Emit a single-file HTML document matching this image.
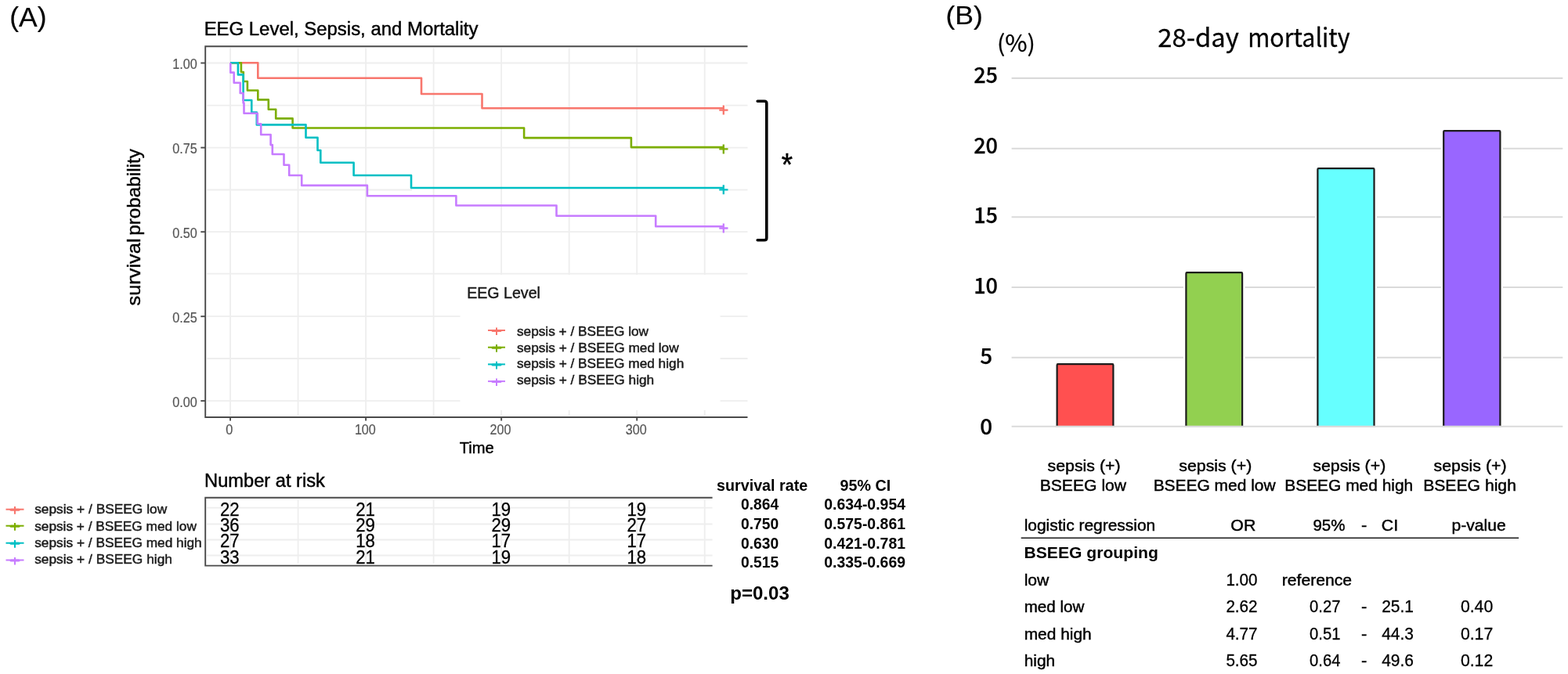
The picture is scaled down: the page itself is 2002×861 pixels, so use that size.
<!DOCTYPE html>
<html lang="en">
<head>
<meta charset="utf-8">
<title>EEG Level, Sepsis, and Mortality</title>
<style>
html,body{margin:0;padding:0;background:#fff;}
body{width:2002px;height:861px;overflow:hidden;font-family:'Liberation Sans',sans-serif;}
svg{display:block;}
text{white-space:pre;}
</style>
</head>
<body>
<svg width="2002" height="861" viewBox="0 0 2002 861">
<rect x="0" y="0" width="2002" height="861" fill="#ffffff"/>
<g stroke="#EEEEEE" stroke-width="1.8" fill="none">
<line x1="294.05" y1="61.3" x2="294.05" y2="530.7"/>
<line x1="380.57" y1="61.3" x2="380.57" y2="530.7"/>
<line x1="467.10" y1="61.3" x2="467.10" y2="530.7"/>
<line x1="553.62" y1="61.3" x2="553.62" y2="530.7"/>
<line x1="640.15" y1="61.3" x2="640.15" y2="530.7"/>
<line x1="726.67" y1="61.3" x2="726.67" y2="530.7"/>
<line x1="813.20" y1="61.3" x2="813.20" y2="530.7"/>
<line x1="899.72" y1="61.3" x2="899.72" y2="530.7"/>
<line x1="264.2" y1="80.50" x2="954.5" y2="80.50"/>
<line x1="264.2" y1="134.60" x2="616.5" y2="134.60"/>
<line x1="926" y1="134.60" x2="954.5" y2="134.60"/>
<line x1="264.2" y1="188.60" x2="954.5" y2="188.60"/>
<line x1="264.2" y1="242.50" x2="526.0" y2="242.50"/>
<line x1="926" y1="242.50" x2="954.5" y2="242.50"/>
<line x1="264.2" y1="296.20" x2="954.5" y2="296.20"/>
<line x1="264.2" y1="349.70" x2="954.5" y2="349.70"/>
<line x1="264.2" y1="404.20" x2="954.5" y2="404.20"/>
<line x1="264.2" y1="458.00" x2="954.5" y2="458.00"/>
<line x1="264.2" y1="512.10" x2="954.5" y2="512.10"/>
</g>
<rect x="587.5" y="351.0" width="332" height="173.0" fill="#fff"/>
<g fill="none" stroke-width="2.6" stroke-linejoin="round">
<path d="M294.1,80.2 H329.3 V99.8 H538 V120 H615.5 V138.3 H924" stroke="#F8766D"/>
<path d="M294.1,80.2 H307.9 V92 H310.8 V104 H315.9 V115.5 H329.3 V127.4 H342.8 V139.7 H352.2 V151.4 H373.6 V163.5 H669.1 V176.1 H805.9 V188.1 H924" stroke="#7CAE00"/>
<path d="M294.1,80.2 H303.9 V95.4 H310.6 V128.0 H321.25 V143.5 H327.8 V159.4 H390.5 V175.7 H405.5 V192.0 H409.3 V207.7 H451.6 V224.0 H525 V240.0 H924" stroke="#00BFC4"/>
<path d="M294.3,80.2 V92.65 H298.7 V105.8 H306.7 V119.0 H310.6 V131.5 H311.5 V144.7 H328.8 V158.3 H333.2 V172 H345.6 V185.1 H347.8 V197 H362.5 V210.8 H369.2 V224 H385.2 V236.9 H468.9 V250.3 H582.4 V262.5 H710.5 V275.7 H837.2 V289.2 H924" stroke="#C77CFF"/>
</g>
<g fill="none" stroke-width="2.3">
<path d="M918.3,140.60 H929.5 M923.8,134.60 V146.60" stroke="#F8766D"/>
<path d="M918.3,190.40 H929.5 M923.8,184.40 V196.40" stroke="#7CAE00"/>
<path d="M918.3,242.30 H929.5 M923.8,236.30 V248.30" stroke="#00BFC4"/>
<path d="M918.3,291.50 H929.5 M923.8,285.50 V297.50" stroke="#C77CFF"/>
</g>
<g stroke="#4a4a4a" stroke-width="1.9" fill="none">
<path d="M954.5,59.3 H262.2 V533.0 H954.5"/>
<line x1="256.3" y1="80.50" x2="262.2" y2="80.50"/>
<line x1="256.3" y1="188.60" x2="262.2" y2="188.60"/>
<line x1="256.3" y1="296.20" x2="262.2" y2="296.20"/>
<line x1="256.3" y1="404.20" x2="262.2" y2="404.20"/>
<line x1="256.3" y1="512.10" x2="262.2" y2="512.10"/>
<line x1="294.05" y1="533.0" x2="294.05" y2="537.5"/>
<line x1="467.10" y1="533.0" x2="467.10" y2="537.5"/>
<line x1="640.15" y1="533.0" x2="640.15" y2="537.5"/>
<line x1="813.20" y1="533.0" x2="813.20" y2="537.5"/>
</g>
<path d="M623.0,422.0 H645.0" stroke="#F8766D" stroke-width="2" fill="none"/><path d="M629.0,422.5 H639.0" stroke="#F8766D" stroke-width="3" fill="none" stroke-linecap="round"/><path d="M634.0,418.4 V428.0" stroke="#F8766D" stroke-width="2" fill="none"/>
<path d="M623.0,443.7 H645.0" stroke="#7CAE00" stroke-width="2" fill="none"/><path d="M629.0,444.2 H639.0" stroke="#7CAE00" stroke-width="3" fill="none" stroke-linecap="round"/><path d="M634.0,440.09999999999997 V449.7" stroke="#7CAE00" stroke-width="2" fill="none"/>
<path d="M623.0,465.4 H645.0" stroke="#00BFC4" stroke-width="2" fill="none"/><path d="M629.0,465.9 H639.0" stroke="#00BFC4" stroke-width="3" fill="none" stroke-linecap="round"/><path d="M634.0,461.79999999999995 V471.4" stroke="#00BFC4" stroke-width="2" fill="none"/>
<path d="M623.0,487.1 H645.0" stroke="#C77CFF" stroke-width="2" fill="none"/><path d="M629.0,487.6 H639.0" stroke="#C77CFF" stroke-width="3" fill="none" stroke-linecap="round"/><path d="M634.0,483.5 V493.1" stroke="#C77CFF" stroke-width="2" fill="none"/>
<path d="M7.5,650.7 H30.5" stroke="#F8766D" stroke-width="2" fill="none"/><path d="M14.0,651.2 H24.0" stroke="#F8766D" stroke-width="3" fill="none" stroke-linecap="round"/><path d="M19.0,647.1 V656.7" stroke="#F8766D" stroke-width="2" fill="none"/>
<path d="M7.5,671.7 H30.5" stroke="#7CAE00" stroke-width="2" fill="none"/><path d="M14.0,672.2 H24.0" stroke="#7CAE00" stroke-width="3" fill="none" stroke-linecap="round"/><path d="M19.0,668.1 V677.7" stroke="#7CAE00" stroke-width="2" fill="none"/>
<path d="M7.5,693.7 H30.5" stroke="#00BFC4" stroke-width="2" fill="none"/><path d="M14.0,694.2 H24.0" stroke="#00BFC4" stroke-width="3" fill="none" stroke-linecap="round"/><path d="M19.0,690.1 V699.7" stroke="#00BFC4" stroke-width="2" fill="none"/>
<path d="M7.5,715.5 H30.5" stroke="#C77CFF" stroke-width="2" fill="none"/><path d="M14.0,716.0 H24.0" stroke="#C77CFF" stroke-width="3" fill="none" stroke-linecap="round"/><path d="M19.0,711.9 V721.5" stroke="#C77CFF" stroke-width="2" fill="none"/>
<g stroke="#EEEEEE" stroke-width="1.8" fill="none">
<line x1="294.05" y1="638.8" x2="294.05" y2="719.8"/>
<line x1="380.57" y1="638.8" x2="380.57" y2="719.8"/>
<line x1="467.10" y1="638.8" x2="467.10" y2="719.8"/>
<line x1="553.62" y1="638.8" x2="553.62" y2="719.8"/>
<line x1="640.15" y1="638.8" x2="640.15" y2="719.8"/>
<line x1="726.67" y1="638.8" x2="726.67" y2="719.8"/>
<line x1="813.20" y1="638.8" x2="813.20" y2="719.8"/>
<line x1="899.72" y1="638.8" x2="899.72" y2="719.8"/>
<line x1="264" y1="648.7" x2="909.6" y2="648.7"/>
<line x1="264" y1="669.5" x2="909.6" y2="669.5"/>
<line x1="264" y1="689.5" x2="909.6" y2="689.5"/>
<line x1="264" y1="709.5" x2="909.6" y2="709.5"/>
</g>
<path d="M909.6,635.7 H262.2 V722.6 H909.6" stroke="#4a4a4a" stroke-width="1.9" fill="none"/>
<path d="M967.2,129.3 H976.0 Q978.8,129.3 978.8,132.1 V304.0 Q978.8,306.8 976.0,306.8 H967.2" stroke="#000" stroke-width="3.6" fill="none" stroke-linecap="round" stroke-linejoin="round"/>
<g stroke="#DADADA" stroke-width="2.1" fill="none">
<line x1="1291.6" y1="99.9" x2="1995.3" y2="99.9"/>
<line x1="1291.6" y1="189.7" x2="1995.3" y2="189.7"/>
<line x1="1291.6" y1="277.3" x2="1995.3" y2="277.3"/>
<line x1="1291.6" y1="367.0" x2="1995.3" y2="367.0"/>
<line x1="1291.6" y1="456.8" x2="1995.3" y2="456.8"/>
<line x1="1291.6" y1="544.7" x2="1995.3" y2="544.7"/>
</g>
<path d="M1349.60,543.4 V465.20 H1421.40 V543.4" fill="none" stroke="#ffffff" stroke-width="7" stroke-linejoin="round"/>
<rect x="1349.10" y="464.70" width="72.80" height="80.00" fill="#FF5050"/>
<path d="M1349.60,544.2 V466.40 Q1349.60,465.20 1350.80,465.20 H1420.20 Q1421.40,465.20 1421.40,466.40 V544.2" fill="none" stroke="#1c1c1c" stroke-width="2.2" stroke-linejoin="round"/>
<line x1="1347.4" y1="544.8" x2="1423.6" y2="544.8" stroke="#DADADA" stroke-width="2.1"/>
<path d="M1514.40,543.4 V348.20 H1586.10 V543.4" fill="none" stroke="#ffffff" stroke-width="7" stroke-linejoin="round"/>
<rect x="1513.90" y="347.70" width="72.70" height="197.00" fill="#92D050"/>
<path d="M1514.40,544.2 V349.40 Q1514.40,348.20 1515.60,348.20 H1584.90 Q1586.10,348.20 1586.10,349.40 V544.2" fill="none" stroke="#1c1c1c" stroke-width="2.2" stroke-linejoin="round"/>
<line x1="1512.2" y1="544.8" x2="1588.3" y2="544.8" stroke="#DADADA" stroke-width="2.1"/>
<path d="M1682.40,543.4 V215.10 H1754.50 V543.4" fill="none" stroke="#ffffff" stroke-width="7" stroke-linejoin="round"/>
<rect x="1681.90" y="214.60" width="73.10" height="330.10" fill="#66FFFF"/>
<path d="M1682.40,544.2 V216.30 Q1682.40,215.10 1683.60,215.10 H1753.30 Q1754.50,215.10 1754.50,216.30 V544.2" fill="none" stroke="#1c1c1c" stroke-width="2.2" stroke-linejoin="round"/>
<line x1="1680.2" y1="544.8" x2="1756.7" y2="544.8" stroke="#DADADA" stroke-width="2.1"/>
<path d="M1843.20,543.4 V167.10 H1915.40 V543.4" fill="none" stroke="#ffffff" stroke-width="7" stroke-linejoin="round"/>
<rect x="1842.70" y="166.60" width="73.20" height="378.10" fill="#9966FF"/>
<path d="M1843.20,544.2 V168.30 Q1843.20,167.10 1844.40,167.10 H1914.20 Q1915.40,167.10 1915.40,168.30 V544.2" fill="none" stroke="#1c1c1c" stroke-width="2.2" stroke-linejoin="round"/>
<line x1="1841.0" y1="544.8" x2="1917.6" y2="544.8" stroke="#DADADA" stroke-width="2.1"/>
<line x1="1303.7" y1="687.2" x2="1939.1" y2="687.2" stroke="#1a1a1a" stroke-width="1.4"/>
<g>
<text x="12.17" y="33.90" textLength="47.31" lengthAdjust="spacingAndGlyphs" style="font-family:'Liberation Sans', sans-serif;font-size:35px;font-weight:400;fill:#000;stroke:#000;stroke-width:0.2px">(A)</text>
<text x="260.65" y="45.00" textLength="349.72" lengthAdjust="spacingAndGlyphs" style="font-family:'Liberation Sans', sans-serif;font-size:23.5px;font-weight:400;fill:#000;stroke:#000;stroke-width:0.45px">EEG Level, Sepsis, and Mortality</text>
<text x="220.24" y="88.30" textLength="31.53" lengthAdjust="spacingAndGlyphs" style="font-family:'Liberation Sans', sans-serif;font-size:18px;font-weight:400;fill:#555555;stroke:#555555;stroke-width:0.2px">1.00</text>
<text x="220.24" y="196.40" textLength="31.53" lengthAdjust="spacingAndGlyphs" style="font-family:'Liberation Sans', sans-serif;font-size:18px;font-weight:400;fill:#555555;stroke:#555555;stroke-width:0.2px">0.75</text>
<text x="220.24" y="304.00" textLength="31.53" lengthAdjust="spacingAndGlyphs" style="font-family:'Liberation Sans', sans-serif;font-size:18px;font-weight:400;fill:#555555;stroke:#555555;stroke-width:0.2px">0.50</text>
<text x="220.24" y="412.00" textLength="31.53" lengthAdjust="spacingAndGlyphs" style="font-family:'Liberation Sans', sans-serif;font-size:18px;font-weight:400;fill:#555555;stroke:#555555;stroke-width:0.2px">0.25</text>
<text x="220.24" y="519.90" textLength="31.53" lengthAdjust="spacingAndGlyphs" style="font-family:'Liberation Sans', sans-serif;font-size:18px;font-weight:400;fill:#555555;stroke:#555555;stroke-width:0.2px">0.00</text>
<text x="288.13" y="555.20" textLength="9.07" lengthAdjust="spacingAndGlyphs" style="font-family:'Liberation Sans', sans-serif;font-size:17.8px;font-weight:400;fill:#555555;stroke:#555555;stroke-width:0.2px">0</text>
<text x="452.91" y="555.20" textLength="26.88" lengthAdjust="spacingAndGlyphs" style="font-family:'Liberation Sans', sans-serif;font-size:17.8px;font-weight:400;fill:#555555;stroke:#555555;stroke-width:0.2px">100</text>
<text x="625.51" y="555.20" textLength="26.88" lengthAdjust="spacingAndGlyphs" style="font-family:'Liberation Sans', sans-serif;font-size:17.8px;font-weight:400;fill:#555555;stroke:#555555;stroke-width:0.2px">200</text>
<text x="798.81" y="555.20" textLength="26.88" lengthAdjust="spacingAndGlyphs" style="font-family:'Liberation Sans', sans-serif;font-size:17.8px;font-weight:400;fill:#555555;stroke:#555555;stroke-width:0.2px">300</text>
<text x="586.67" y="579.40" textLength="43.98" lengthAdjust="spacingAndGlyphs" style="font-family:'Liberation Sans', sans-serif;font-size:20px;font-weight:400;fill:#000;stroke:#000;stroke-width:0.45px">Time</text>
<text x="596.15" y="381.00" textLength="93.80" lengthAdjust="spacingAndGlyphs" style="font-family:'Liberation Sans', sans-serif;font-size:20px;font-weight:400;fill:#1a1a1a;stroke:#1a1a1a;stroke-width:0.45px">EEG Level</text>
<text x="659.97" y="428.60" textLength="168.10" lengthAdjust="spacingAndGlyphs" style="font-family:'Liberation Sans', sans-serif;font-size:16.5px;font-weight:400;fill:#1a1a1a;stroke:#1a1a1a;stroke-width:0.45px">sepsis + / BSEEG low</text>
<text x="659.97" y="449.60" textLength="206.70" lengthAdjust="spacingAndGlyphs" style="font-family:'Liberation Sans', sans-serif;font-size:16.5px;font-weight:400;fill:#1a1a1a;stroke:#1a1a1a;stroke-width:0.45px">sepsis + / BSEEG med low</text>
<text x="659.97" y="470.10" textLength="213.26" lengthAdjust="spacingAndGlyphs" style="font-family:'Liberation Sans', sans-serif;font-size:16.5px;font-weight:400;fill:#1a1a1a;stroke:#1a1a1a;stroke-width:0.45px">sepsis + / BSEEG med high</text>
<text x="659.97" y="491.10" textLength="175.26" lengthAdjust="spacingAndGlyphs" style="font-family:'Liberation Sans', sans-serif;font-size:16.5px;font-weight:400;fill:#1a1a1a;stroke:#1a1a1a;stroke-width:0.45px">sepsis + / BSEEG high</text>
<text x="261.06" y="622.00" textLength="153.86" lengthAdjust="spacingAndGlyphs" style="font-family:'Liberation Sans', sans-serif;font-size:23.5px;font-weight:400;fill:#000;stroke:#000;stroke-width:0.45px">Number at risk</text>
<text x="44.17" y="656.40" textLength="169.00" lengthAdjust="spacingAndGlyphs" style="font-family:'Liberation Sans', sans-serif;font-size:16.5px;font-weight:400;fill:#1a1a1a;stroke:#1a1a1a;stroke-width:0.45px">sepsis + / BSEEG low</text>
<text x="44.17" y="678.30" textLength="206.70" lengthAdjust="spacingAndGlyphs" style="font-family:'Liberation Sans', sans-serif;font-size:16.5px;font-weight:400;fill:#1a1a1a;stroke:#1a1a1a;stroke-width:0.45px">sepsis + / BSEEG med low</text>
<text x="44.17" y="698.60" textLength="213.56" lengthAdjust="spacingAndGlyphs" style="font-family:'Liberation Sans', sans-serif;font-size:16.5px;font-weight:400;fill:#1a1a1a;stroke:#1a1a1a;stroke-width:0.45px">sepsis + / BSEEG med high</text>
<text x="44.17" y="720.00" textLength="175.76" lengthAdjust="spacingAndGlyphs" style="font-family:'Liberation Sans', sans-serif;font-size:16.5px;font-weight:400;fill:#1a1a1a;stroke:#1a1a1a;stroke-width:0.45px">sepsis + / BSEEG high</text>
<text x="281.01" y="658.60" textLength="24.66" lengthAdjust="spacingAndGlyphs" style="font-family:'Liberation Sans', sans-serif;font-size:24px;font-weight:400;fill:#000;stroke:#000;stroke-width:0.3px">22</text>
<text x="454.21" y="658.60" textLength="24.66" lengthAdjust="spacingAndGlyphs" style="font-family:'Liberation Sans', sans-serif;font-size:24px;font-weight:400;fill:#000;stroke:#000;stroke-width:0.3px">21</text>
<text x="627.41" y="658.60" textLength="24.66" lengthAdjust="spacingAndGlyphs" style="font-family:'Liberation Sans', sans-serif;font-size:24px;font-weight:400;fill:#000;stroke:#000;stroke-width:0.3px">19</text>
<text x="800.41" y="658.60" textLength="24.66" lengthAdjust="spacingAndGlyphs" style="font-family:'Liberation Sans', sans-serif;font-size:24px;font-weight:400;fill:#000;stroke:#000;stroke-width:0.3px">19</text>
<text x="281.01" y="678.90" textLength="24.66" lengthAdjust="spacingAndGlyphs" style="font-family:'Liberation Sans', sans-serif;font-size:24px;font-weight:400;fill:#000;stroke:#000;stroke-width:0.3px">36</text>
<text x="454.21" y="678.90" textLength="24.66" lengthAdjust="spacingAndGlyphs" style="font-family:'Liberation Sans', sans-serif;font-size:24px;font-weight:400;fill:#000;stroke:#000;stroke-width:0.3px">29</text>
<text x="627.41" y="678.90" textLength="24.66" lengthAdjust="spacingAndGlyphs" style="font-family:'Liberation Sans', sans-serif;font-size:24px;font-weight:400;fill:#000;stroke:#000;stroke-width:0.3px">29</text>
<text x="800.41" y="678.90" textLength="24.66" lengthAdjust="spacingAndGlyphs" style="font-family:'Liberation Sans', sans-serif;font-size:24px;font-weight:400;fill:#000;stroke:#000;stroke-width:0.3px">27</text>
<text x="281.01" y="698.90" textLength="24.66" lengthAdjust="spacingAndGlyphs" style="font-family:'Liberation Sans', sans-serif;font-size:24px;font-weight:400;fill:#000;stroke:#000;stroke-width:0.3px">27</text>
<text x="454.21" y="698.90" textLength="24.66" lengthAdjust="spacingAndGlyphs" style="font-family:'Liberation Sans', sans-serif;font-size:24px;font-weight:400;fill:#000;stroke:#000;stroke-width:0.3px">18</text>
<text x="627.41" y="698.90" textLength="24.66" lengthAdjust="spacingAndGlyphs" style="font-family:'Liberation Sans', sans-serif;font-size:24px;font-weight:400;fill:#000;stroke:#000;stroke-width:0.3px">17</text>
<text x="800.41" y="698.90" textLength="24.66" lengthAdjust="spacingAndGlyphs" style="font-family:'Liberation Sans', sans-serif;font-size:24px;font-weight:400;fill:#000;stroke:#000;stroke-width:0.3px">17</text>
<text x="281.01" y="720.00" textLength="24.66" lengthAdjust="spacingAndGlyphs" style="font-family:'Liberation Sans', sans-serif;font-size:24px;font-weight:400;fill:#000;stroke:#000;stroke-width:0.3px">33</text>
<text x="454.21" y="720.00" textLength="24.66" lengthAdjust="spacingAndGlyphs" style="font-family:'Liberation Sans', sans-serif;font-size:24px;font-weight:400;fill:#000;stroke:#000;stroke-width:0.3px">21</text>
<text x="627.41" y="720.00" textLength="24.66" lengthAdjust="spacingAndGlyphs" style="font-family:'Liberation Sans', sans-serif;font-size:24px;font-weight:400;fill:#000;stroke:#000;stroke-width:0.3px">19</text>
<text x="800.41" y="720.00" textLength="24.66" lengthAdjust="spacingAndGlyphs" style="font-family:'Liberation Sans', sans-serif;font-size:24px;font-weight:400;fill:#000;stroke:#000;stroke-width:0.3px">18</text>
<text x="915.01" y="627.20" textLength="116.21" lengthAdjust="spacingAndGlyphs" style="font-family:'Liberation Sans', sans-serif;font-size:20px;font-weight:700;fill:#000;stroke:#000;stroke-width:0px">survival rate</text>
<text x="1072.51" y="627.20" textLength="64.78" lengthAdjust="spacingAndGlyphs" style="font-family:'Liberation Sans', sans-serif;font-size:20px;font-weight:700;fill:#000;stroke:#000;stroke-width:0px">95% CI</text>
<text x="945.99" y="651.30" textLength="48.25" lengthAdjust="spacingAndGlyphs" style="font-family:'Liberation Sans', sans-serif;font-size:20.3px;font-weight:700;fill:#000;stroke:#000;stroke-width:0px">0.864</text>
<text x="1052.28" y="651.30" textLength="103.75" lengthAdjust="spacingAndGlyphs" style="font-family:'Liberation Sans', sans-serif;font-size:20.3px;font-weight:700;fill:#000;stroke:#000;stroke-width:0px">0.634-0.954</text>
<text x="945.99" y="676.20" textLength="48.25" lengthAdjust="spacingAndGlyphs" style="font-family:'Liberation Sans', sans-serif;font-size:20.3px;font-weight:700;fill:#000;stroke:#000;stroke-width:0px">0.750</text>
<text x="1052.28" y="676.20" textLength="103.75" lengthAdjust="spacingAndGlyphs" style="font-family:'Liberation Sans', sans-serif;font-size:20.3px;font-weight:700;fill:#000;stroke:#000;stroke-width:0px">0.575-0.861</text>
<text x="945.99" y="700.90" textLength="48.25" lengthAdjust="spacingAndGlyphs" style="font-family:'Liberation Sans', sans-serif;font-size:20.3px;font-weight:700;fill:#000;stroke:#000;stroke-width:0px">0.630</text>
<text x="1052.28" y="700.90" textLength="103.75" lengthAdjust="spacingAndGlyphs" style="font-family:'Liberation Sans', sans-serif;font-size:20.3px;font-weight:700;fill:#000;stroke:#000;stroke-width:0px">0.421-0.781</text>
<text x="945.99" y="725.00" textLength="48.25" lengthAdjust="spacingAndGlyphs" style="font-family:'Liberation Sans', sans-serif;font-size:20.3px;font-weight:700;fill:#000;stroke:#000;stroke-width:0px">0.515</text>
<text x="1052.28" y="725.00" textLength="103.75" lengthAdjust="spacingAndGlyphs" style="font-family:'Liberation Sans', sans-serif;font-size:20.3px;font-weight:700;fill:#000;stroke:#000;stroke-width:0px">0.335-0.669</text>
<text x="932.23" y="766.30" textLength="75.63" lengthAdjust="spacingAndGlyphs" style="font-family:'Liberation Sans', sans-serif;font-size:24.5px;font-weight:700;fill:#000;stroke:#000;stroke-width:0px">p=0.03</text>
<text x="997.87" y="223.80" textLength="14.32" lengthAdjust="spacingAndGlyphs" style="font-family:'Liberation Sans', sans-serif;font-size:40px;font-weight:400;fill:#000;stroke:#000;stroke-width:0.5px">*</text>
<text x="1207.48" y="31.20" textLength="47.44" lengthAdjust="spacingAndGlyphs" style="font-family:'Liberation Sans', sans-serif;font-size:33.5px;font-weight:400;fill:#000;stroke:#000;stroke-width:0.2px">(B)</text>
<text x="1272.92" y="65.80" textLength="49.12" lengthAdjust="spacingAndGlyphs" style="font-family:'Noto Sans CJK JP', 'Liberation Sans', sans-serif;font-size:29.5px;font-weight:400;fill:#000;stroke:#000;stroke-width:0.25px">(%)</text>
<text x="1243.15" y="106.00" textLength="30.90" lengthAdjust="spacingAndGlyphs" style="font-family:'Noto Sans CJK JP', 'Liberation Sans', sans-serif;font-size:28px;font-weight:500;fill:#000;stroke:#000;stroke-width:0.25px">25</text>
<text x="1243.15" y="195.74" textLength="30.90" lengthAdjust="spacingAndGlyphs" style="font-family:'Noto Sans CJK JP', 'Liberation Sans', sans-serif;font-size:28px;font-weight:500;fill:#000;stroke:#000;stroke-width:0.25px">20</text>
<text x="1243.15" y="285.48" textLength="30.90" lengthAdjust="spacingAndGlyphs" style="font-family:'Noto Sans CJK JP', 'Liberation Sans', sans-serif;font-size:28px;font-weight:500;fill:#000;stroke:#000;stroke-width:0.25px">15</text>
<text x="1243.15" y="375.22" textLength="30.90" lengthAdjust="spacingAndGlyphs" style="font-family:'Noto Sans CJK JP', 'Liberation Sans', sans-serif;font-size:28px;font-weight:500;fill:#000;stroke:#000;stroke-width:0.25px">10</text>
<text x="1251.28" y="464.96" textLength="15.90" lengthAdjust="spacingAndGlyphs" style="font-family:'Noto Sans CJK JP', 'Liberation Sans', sans-serif;font-size:28px;font-weight:500;fill:#000;stroke:#000;stroke-width:0.25px">5</text>
<text x="1251.28" y="554.70" textLength="15.90" lengthAdjust="spacingAndGlyphs" style="font-family:'Noto Sans CJK JP', 'Liberation Sans', sans-serif;font-size:28px;font-weight:500;fill:#000;stroke:#000;stroke-width:0.25px">0</text>
<text x="1337.62" y="602.20" textLength="92.91" lengthAdjust="spacingAndGlyphs" style="font-family:'Liberation Sans', sans-serif;font-size:21px;font-weight:400;fill:#000;stroke:#000;stroke-width:0.45px">sepsis (+)</text>
<text x="1327.67" y="626.80" textLength="110.47" lengthAdjust="spacingAndGlyphs" style="font-family:'Liberation Sans', sans-serif;font-size:21px;font-weight:400;fill:#000;stroke:#000;stroke-width:0.45px">BSEEG low</text>
<text x="1505.32" y="602.20" textLength="92.91" lengthAdjust="spacingAndGlyphs" style="font-family:'Liberation Sans', sans-serif;font-size:21px;font-weight:400;fill:#000;stroke:#000;stroke-width:0.45px">sepsis (+)</text>
<text x="1472.63" y="626.80" textLength="155.96" lengthAdjust="spacingAndGlyphs" style="font-family:'Liberation Sans', sans-serif;font-size:21px;font-weight:400;fill:#000;stroke:#000;stroke-width:0.45px">BSEEG med low</text>
<text x="1676.32" y="602.20" textLength="92.91" lengthAdjust="spacingAndGlyphs" style="font-family:'Liberation Sans', sans-serif;font-size:21px;font-weight:400;fill:#000;stroke:#000;stroke-width:0.45px">sepsis (+)</text>
<text x="1640.23" y="626.80" textLength="164.02" lengthAdjust="spacingAndGlyphs" style="font-family:'Liberation Sans', sans-serif;font-size:21px;font-weight:400;fill:#000;stroke:#000;stroke-width:0.45px">BSEEG med high</text>
<text x="1830.62" y="602.20" textLength="92.91" lengthAdjust="spacingAndGlyphs" style="font-family:'Liberation Sans', sans-serif;font-size:21px;font-weight:400;fill:#000;stroke:#000;stroke-width:0.45px">sepsis (+)</text>
<text x="1817.17" y="626.80" textLength="118.75" lengthAdjust="spacingAndGlyphs" style="font-family:'Liberation Sans', sans-serif;font-size:21px;font-weight:400;fill:#000;stroke:#000;stroke-width:0.45px">BSEEG high</text>
<text x="1307.68" y="678.10" textLength="167.57" lengthAdjust="spacingAndGlyphs" style="font-family:'Liberation Sans', sans-serif;font-size:21px;font-weight:400;fill:#000;stroke:#000;stroke-width:0.45px">logistic regression</text>
<text x="1571.37" y="678.10" textLength="31.93" lengthAdjust="spacingAndGlyphs" style="font-family:'Liberation Sans', sans-serif;font-size:21px;font-weight:400;fill:#000;stroke:#000;stroke-width:0.45px">OR</text>
<text x="1676.39" y="678.10" textLength="40.95" lengthAdjust="spacingAndGlyphs" style="font-family:'Liberation Sans', sans-serif;font-size:21px;font-weight:400;fill:#000;stroke:#000;stroke-width:0.45px">95%</text>
<text x="1737.95" y="678.10" textLength="7.29" lengthAdjust="spacingAndGlyphs" style="font-family:'Liberation Sans', sans-serif;font-size:21px;font-weight:400;fill:#000;stroke:#000;stroke-width:0.45px">-</text>
<text x="1763.81" y="678.10" textLength="21.32" lengthAdjust="spacingAndGlyphs" style="font-family:'Liberation Sans', sans-serif;font-size:21px;font-weight:400;fill:#000;stroke:#000;stroke-width:0.45px">CI</text>
<text x="1853.57" y="678.10" textLength="69.14" lengthAdjust="spacingAndGlyphs" style="font-family:'Liberation Sans', sans-serif;font-size:21px;font-weight:400;fill:#000;stroke:#000;stroke-width:0.45px">p-value</text>
<text x="1307.44" y="713.00" textLength="171.39" lengthAdjust="spacingAndGlyphs" style="font-family:'Liberation Sans', sans-serif;font-size:21px;font-weight:700;fill:#000;stroke:#000;stroke-width:0px">BSEEG grouping</text>
<text x="1307.67" y="747.50" textLength="31.72" lengthAdjust="spacingAndGlyphs" style="font-family:'Liberation Sans', sans-serif;font-size:21px;font-weight:400;fill:#000;stroke:#000;stroke-width:0.45px">low</text>
<text x="1565.40" y="747.50" textLength="40.18" lengthAdjust="spacingAndGlyphs" style="font-family:'Liberation Sans', sans-serif;font-size:22px;font-weight:400;fill:#000;stroke:#000;stroke-width:0.3px">1.00</text>
<text x="1636.77" y="747.50" textLength="89.34" lengthAdjust="spacingAndGlyphs" style="font-family:'Liberation Sans', sans-serif;font-size:21px;font-weight:400;fill:#000;stroke:#000;stroke-width:0.45px">reference</text>
<text x="1307.69" y="781.80" textLength="76.70" lengthAdjust="spacingAndGlyphs" style="font-family:'Liberation Sans', sans-serif;font-size:21px;font-weight:400;fill:#000;stroke:#000;stroke-width:0.45px">med low</text>
<text x="1565.40" y="781.80" textLength="40.18" lengthAdjust="spacingAndGlyphs" style="font-family:'Liberation Sans', sans-serif;font-size:22px;font-weight:400;fill:#000;stroke:#000;stroke-width:0.3px">2.62</text>
<text x="1672.05" y="781.80" textLength="39.32" lengthAdjust="spacingAndGlyphs" style="font-family:'Liberation Sans', sans-serif;font-size:22px;font-weight:400;fill:#000;stroke:#000;stroke-width:0.3px">0.27</text>
<text x="1737.95" y="781.80" textLength="7.29" lengthAdjust="spacingAndGlyphs" style="font-family:'Liberation Sans', sans-serif;font-size:21px;font-weight:400;fill:#000;stroke:#000;stroke-width:0.45px">-</text>
<text x="1764.17" y="781.80" textLength="40.69" lengthAdjust="spacingAndGlyphs" style="font-family:'Liberation Sans', sans-serif;font-size:22px;font-weight:400;fill:#000;stroke:#000;stroke-width:0.3px">25.1</text>
<text x="1864.92" y="781.80" textLength="41.34" lengthAdjust="spacingAndGlyphs" style="font-family:'Liberation Sans', sans-serif;font-size:22px;font-weight:400;fill:#000;stroke:#000;stroke-width:0.3px">0.40</text>
<text x="1307.68" y="817.10" textLength="85.97" lengthAdjust="spacingAndGlyphs" style="font-family:'Liberation Sans', sans-serif;font-size:21px;font-weight:400;fill:#000;stroke:#000;stroke-width:0.45px">med high</text>
<text x="1565.40" y="817.10" textLength="40.18" lengthAdjust="spacingAndGlyphs" style="font-family:'Liberation Sans', sans-serif;font-size:22px;font-weight:400;fill:#000;stroke:#000;stroke-width:0.3px">4.77</text>
<text x="1672.05" y="817.10" textLength="39.32" lengthAdjust="spacingAndGlyphs" style="font-family:'Liberation Sans', sans-serif;font-size:22px;font-weight:400;fill:#000;stroke:#000;stroke-width:0.3px">0.51</text>
<text x="1737.95" y="817.10" textLength="7.29" lengthAdjust="spacingAndGlyphs" style="font-family:'Liberation Sans', sans-serif;font-size:21px;font-weight:400;fill:#000;stroke:#000;stroke-width:0.45px">-</text>
<text x="1764.17" y="817.10" textLength="40.69" lengthAdjust="spacingAndGlyphs" style="font-family:'Liberation Sans', sans-serif;font-size:22px;font-weight:400;fill:#000;stroke:#000;stroke-width:0.3px">44.3</text>
<text x="1864.92" y="817.10" textLength="41.34" lengthAdjust="spacingAndGlyphs" style="font-family:'Liberation Sans', sans-serif;font-size:22px;font-weight:400;fill:#000;stroke:#000;stroke-width:0.3px">0.17</text>
<text x="1307.68" y="851.00" textLength="39.47" lengthAdjust="spacingAndGlyphs" style="font-family:'Liberation Sans', sans-serif;font-size:21px;font-weight:400;fill:#000;stroke:#000;stroke-width:0.45px">high</text>
<text x="1565.40" y="851.00" textLength="40.18" lengthAdjust="spacingAndGlyphs" style="font-family:'Liberation Sans', sans-serif;font-size:22px;font-weight:400;fill:#000;stroke:#000;stroke-width:0.3px">5.65</text>
<text x="1672.05" y="851.00" textLength="39.32" lengthAdjust="spacingAndGlyphs" style="font-family:'Liberation Sans', sans-serif;font-size:22px;font-weight:400;fill:#000;stroke:#000;stroke-width:0.3px">0.64</text>
<text x="1737.95" y="851.00" textLength="7.29" lengthAdjust="spacingAndGlyphs" style="font-family:'Liberation Sans', sans-serif;font-size:21px;font-weight:400;fill:#000;stroke:#000;stroke-width:0.45px">-</text>
<text x="1764.17" y="851.00" textLength="40.69" lengthAdjust="spacingAndGlyphs" style="font-family:'Liberation Sans', sans-serif;font-size:22px;font-weight:400;fill:#000;stroke:#000;stroke-width:0.3px">49.6</text>
<text x="1864.92" y="851.00" textLength="41.34" lengthAdjust="spacingAndGlyphs" style="font-family:'Liberation Sans', sans-serif;font-size:22px;font-weight:400;fill:#000;stroke:#000;stroke-width:0.3px">0.12</text>
<text y="60.00" style="font-family:'Noto Sans CJK JP', 'Liberation Sans', sans-serif;font-size:32.4px;font-weight:400;fill:#000;stroke:#000;stroke-width:0.3px"><tspan x="1478.34" textLength="103.45" lengthAdjust="spacingAndGlyphs">28-day</tspan> <tspan x="1593.22" textLength="130.43" lengthAdjust="spacingAndGlyphs">mortality</tspan></text>
</g>
<text transform="translate(179.10,390.00) rotate(-90)" y="0" style="font-family:'Liberation Sans', sans-serif;font-size:24.5px;fill:#000;stroke:#000;stroke-width:0.4px"><tspan x="-0.52" textLength="86.11" lengthAdjust="spacingAndGlyphs">survival</tspan> <tspan x="89.32" textLength="110.48" lengthAdjust="spacingAndGlyphs">probability</tspan></text>
</svg>
</body>
</html>
